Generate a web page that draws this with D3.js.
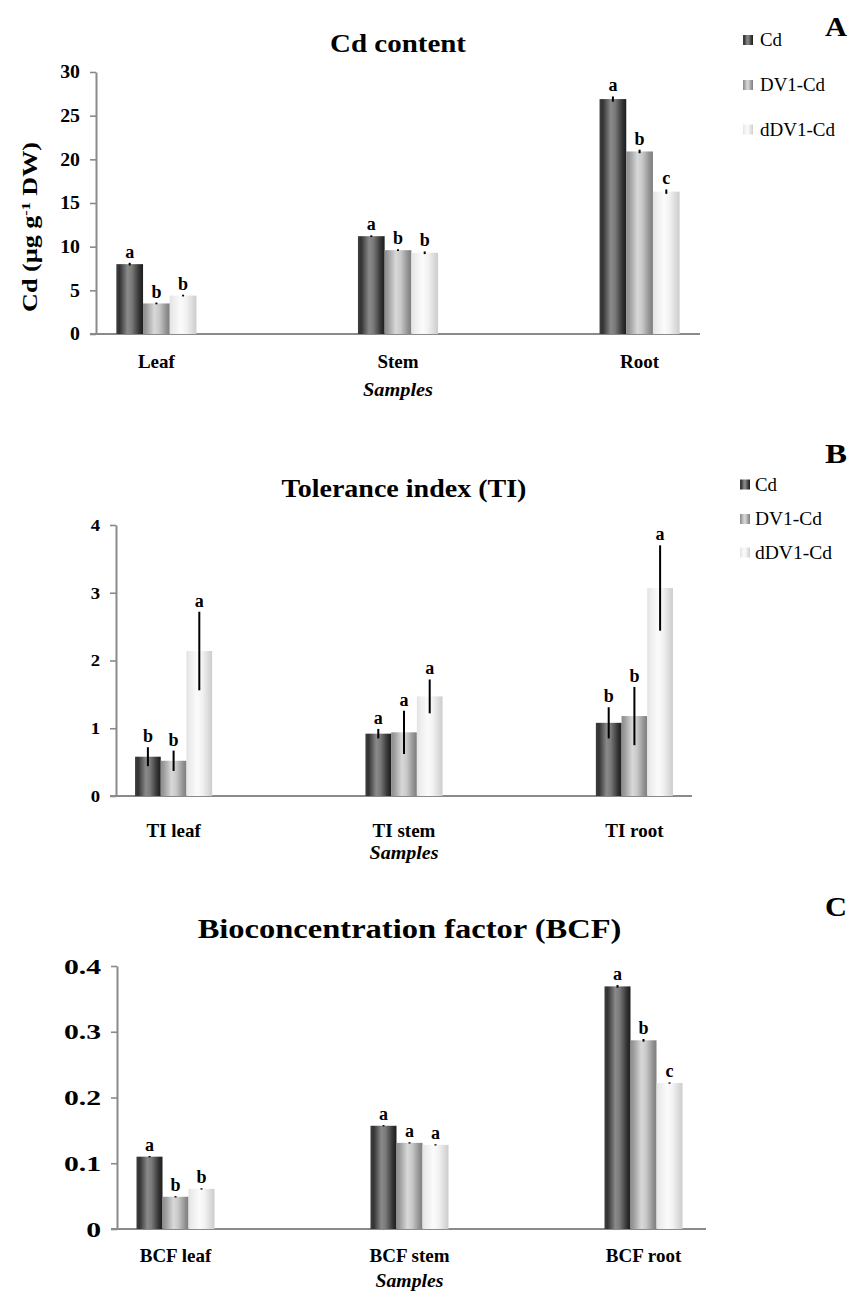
<!DOCTYPE html>
<html>
<head>
<meta charset="utf-8">
<script src="https://cdn.jsdelivr.net/npm/d3@7"></script>
<style>
  html, body { margin: 0; padding: 0; background: #fff; }
  svg { display: block; }
</style>
</head>
<body>
<svg id="chart" width="862" height="1294"></svg>
<script>
// ---------------- DATA ----------------
const seriesNames = ["Cd", "DV1-Cd", "dDV1-Cd"];

// Panel A: Cd content (µg g-1 DW)
const categoriesA = ["Leaf", "Stem", "Root"];
const ticksA = [0, 5, 10, 15, 20, 25, 30];
const valuesA_Cd   = [8.0, 11.2, 26.9];
const valuesA_DV1  = [3.5, 9.6, 20.9];
const valuesA_dDV1 = [4.4, 9.3, 16.3];
const errorsA_Cd   = [0.15, 0.1, 0.3];
const errorsA_DV1  = [0.1, 0.1, 0.2];
const errorsA_dDV1 = [0.1, 0.15, 0.25];
const lettersA_Cd   = ["a", "a", "a"];
const lettersA_DV1  = ["b", "b", "b"];
const lettersA_dDV1 = ["b", "b", "c"];

// Panel B: Tolerance index (TI)
const categoriesB = ["TI leaf", "TI stem", "TI root"];
const ticksB = [0, 1, 2, 3, 4];
const valuesB_Cd   = [0.58, 0.92, 1.08];
const valuesB_DV1  = [0.52, 0.94, 1.18];
const valuesB_dDV1 = [2.14, 1.47, 3.07];
const errorsB_Cd   = [0.14, 0.07, 0.23];
const errorsB_DV1  = [0.15, 0.32, 0.43];
const errorsB_dDV1 = [0.58, 0.25, 0.63];
const lettersB_Cd   = ["b", "a", "b"];
const lettersB_DV1  = ["b", "a", "b"];
const lettersB_dDV1 = ["a", "a", "a"];

// Panel C: Bioconcentration factor (BCF)
const categoriesC = ["BCF leaf", "BCF stem", "BCF root"];
const ticksC = [0, 0.1, 0.2, 0.3, 0.4];
const valuesC_Cd   = [0.110, 0.157, 0.369];
const valuesC_DV1  = [0.049, 0.131, 0.287];
const valuesC_dDV1 = [0.061, 0.128, 0.222];
const errorsC_Cd   = [0.001, 0.001, 0.002];
const errorsC_DV1  = [0.001, 0.001, 0.002];
const errorsC_dDV1 = [0.001, 0.001, 0.001];
const lettersC_Cd   = ["a", "a", "a"];
const lettersC_DV1  = ["b", "a", "b"];
const lettersC_dDV1 = ["b", "a", "c"];

// ---------------- DRAWING ----------------
const FONT = "'Liberation Serif', 'Times New Roman', Times, serif";
const AXIS = "#8a8a8a";
const svg = d3.select("#chart");
const defs = svg.append("defs");

const gradStops = {
  "Cd": [[0, "#3e3e3e"], [0.12, "#333"], [0.42, "#8a8a8a"], [0.58, "#7a7a7a"], [0.86, "#333"], [1, "#1c1c1c"]],
  "DV1-Cd": [[0, "#8c8c8c"], [0.12, "#9c9c9c"], [0.42, "#d8d8d8"], [0.6, "#c9c9c9"], [0.88, "#8f8f8f"], [1, "#7e7e7e"]],
  "dDV1-Cd": [[0, "#e2e2e2"], [0.12, "#ececec"], [0.42, "#fbfbfb"], [0.62, "#f2f2f2"], [0.9, "#d6d6d6"], [1, "#cdcdcd"]]
};
const gradId = d3.scaleOrdinal().domain(seriesNames).range(["gCd", "gDV1", "gdDV1"]);
seriesNames.forEach(s => {
  const lg = defs.append("linearGradient").attr("id", gradId(s))
    .attr("x1", "0%").attr("x2", "100%").attr("y1", "0%").attr("y2", "0%");
  gradStops[s].forEach(([o, c]) => lg.append("stop").attr("offset", o).attr("stop-color", c));
});

// helper: place text and optionally stretch it to a given width
function placeText(parent, o) {
  const t = parent.append("text")
    .attr("x", 0).attr("y", 0)
    .attr("font-family", FONT)
    .attr("font-size", o.size)
    .attr("font-weight", o.weight || "bold")
    .attr("font-style", o.style || "normal")
    .attr("text-anchor", o.anchor || "middle")
    .attr("fill", "#000");
  if (o.parts) {
    o.parts.forEach(p => {
      const ts = t.append("tspan").text(p.t);
      if (p.sup) ts.attr("font-size", o.size * 0.62).attr("baseline-shift", "super");
    });
  } else {
    t.text(o.text);
  }
  let tr = `translate(${o.x},${o.y})` + (o.rotate ? ` rotate(${o.rotate})` : "");
  if (o.width) {
    const len = t.node().getComputedTextLength();
    if (len > 0) tr += ` scale(${o.width / len},1)`;
  }
  t.attr("transform", tr);
  return t;
}

function drawPanel(cfg) {
  const g = svg.append("g");
  const y = d3.scaleLinear().domain([0, cfg.yMax]).range([cfg.yBottom, cfg.yTop]);
  const x = d3.scalePoint().domain(cfg.categories).range([cfg.axisX, cfg.xEnd]).padding(0.25);
  const xs = d3.scaleBand().domain(seriesNames).range([-1.5 * cfg.barW, 1.5 * cfg.barW]);

  // x axis line
  g.append("line")
    .attr("x1", cfg.axisX - 6).attr("x2", cfg.xLineEnd)
    .attr("y1", y(0)).attr("y2", y(0))
    .attr("stroke", AXIS).attr("stroke-width", 2);

  // y axis
  const yAxis = d3.axisLeft(y).tickValues(cfg.ticks).tickSizeInner(6).tickSizeOuter(0)
    .tickPadding(10).tickFormat(cfg.fmt);
  const ya = g.append("g").attr("transform", `translate(${cfg.axisX},0)`).call(yAxis);
  ya.select(".domain").attr("stroke", AXIS).attr("stroke-width", 2);
  ya.selectAll(".tick line").attr("stroke", AXIS).attr("stroke-width", 1.6);
  ya.selectAll(".tick text")
    .attr("font-family", FONT).attr("font-weight", "bold")
    .attr("font-size", cfg.tickSize).attr("fill", "#000")
    .attr("x", -16 / cfg.tickSx)
    .attr("transform", `scale(${cfg.tickSx},1)`);

  // bars
  const rows = [];
  cfg.series.forEach((ser, si) => {
    cfg.categories.forEach((c, ci) => {
      rows.push({ cat: c, s: seriesNames[si], v: ser.values[ci], e: ser.errors[ci], l: ser.letters[ci] });
    });
  });
  const bg = g.append("g");
  bg.selectAll("rect").data(rows).join("rect")
    .attr("x", d => x(d.cat) + xs(d.s))
    .attr("y", d => y(d.v))
    .attr("width", xs.bandwidth())
    .attr("height", d => y(0) - y(d.v))
    .attr("fill", d => `url(#${gradId(d.s)})`);

  // error bars
  bg.selectAll("line.err").data(rows).join("line").attr("class", "err")
    .attr("x1", d => x(d.cat) + xs(d.s) + xs.bandwidth() / 2)
    .attr("x2", d => x(d.cat) + xs(d.s) + xs.bandwidth() / 2)
    .attr("y1", d => y(d.v - d.e))
    .attr("y2", d => y(d.v + d.e))
    .attr("stroke", "#000").attr("stroke-width", 2);

  // significance letters
  bg.selectAll("text.lt").data(rows).join("text").attr("class", "lt")
    .attr("x", d => x(d.cat) + xs(d.s) + xs.bandwidth() / 2)
    .attr("y", d => y(d.v + d.e) - 5)
    .attr("text-anchor", "middle")
    .attr("font-family", FONT).attr("font-weight", "bold")
    .attr("font-size", 18).attr("fill", "#000")
    .text(d => d.l);

  // category labels
  cfg.categories.forEach(c => {
    placeText(g, { x: x(c), y: cfg.catY, text: c, size: 19 });
  });
  // "Samples"
  placeText(g, { x: x(cfg.categories[1]), y: cfg.samplesY, text: "Samples", size: 19, style: "italic", width: cfg.samplesW });

  // title
  placeText(g, { x: x(cfg.categories[1]), y: cfg.titleY, text: cfg.title, size: cfg.titleSize, width: cfg.titleW });

  // panel letter
  placeText(g, { x: 836, y: cfg.letterY, text: cfg.letter, size: 28, width: 22 });

  // legend
  if (cfg.legend) {
    cfg.legend.ys.forEach((ly, i) => {
      g.append("rect")
        .attr("x", cfg.legend.x).attr("y", ly - 5)
        .attr("width", 10).attr("height", 10)
        .attr("fill", `url(#${gradId(seriesNames[i])})`);
      placeText(g, { x: cfg.legend.tx, y: ly + 6, text: seriesNames[i], size: 18, weight: "normal", anchor: "start", width: cfg.legend.widths[i] });
    });
  }

  // y label
  if (cfg.yLabel) {
    placeText(g, { x: cfg.yLabel.x, y: cfg.yLabel.y, rotate: -90, size: 20, parts: cfg.yLabel.parts, width: cfg.yLabel.w });
  }
}

drawPanel({
  categories: categoriesA, ticks: ticksA, yMax: 30, fmt: d3.format("d"),
  yBottom: 334, yTop: 72, axisX: 96, xEnd: 700, xLineEnd: 700, barW: 26.7,
  tickSize: 18, tickSx: 1.1,
  series: [
    { values: valuesA_Cd, errors: errorsA_Cd, letters: lettersA_Cd },
    { values: valuesA_DV1, errors: errorsA_DV1, letters: lettersA_DV1 },
    { values: valuesA_dDV1, errors: errorsA_dDV1, letters: lettersA_dDV1 }
  ],
  catY: 368, samplesY: 396, samplesW: 70,
  title: "Cd content", titleY: 52, titleSize: 26, titleW: 136,
  letter: "A", letterY: 36,
  legend: { x: 743, tx: 760, ys: [40, 85, 129.5], widths: [22, 65, 75] },
  yLabel: { x: 37, y: 227, w: 170, parts: [{ t: "Cd (µg g" }, { t: "-1", sup: true }, { t: " DW)" }] }
});

drawPanel({
  categories: categoriesB, ticks: ticksB, yMax: 4, fmt: d3.format("d"),
  yBottom: 796, yTop: 525, axisX: 116, xEnd: 692, xLineEnd: 692, barW: 25.7,
  tickSize: 17, tickSx: 1.1,
  series: [
    { values: valuesB_Cd, errors: errorsB_Cd, letters: lettersB_Cd },
    { values: valuesB_DV1, errors: errorsB_DV1, letters: lettersB_DV1 },
    { values: valuesB_dDV1, errors: errorsB_dDV1, letters: lettersB_dDV1 }
  ],
  catY: 837, samplesY: 859, samplesW: 69,
  title: "Tolerance index (TI)", titleY: 497, titleSize: 26, titleW: 245,
  letter: "B", letterY: 463,
  legend: { x: 740, tx: 755, ys: [484.5, 519, 552.5], widths: [22, 67, 77] }
});

drawPanel({
  categories: categoriesC, ticks: ticksC, yMax: 0.4, fmt: d => d === 0 ? "0" : d3.format(".1f")(d),
  yBottom: 1229, yTop: 966, axisX: 117, xEnd: 702, xLineEnd: 706, barW: 26,
  tickSize: 22, tickSx: 1.35,
  series: [
    { values: valuesC_Cd, errors: errorsC_Cd, letters: lettersC_Cd },
    { values: valuesC_DV1, errors: errorsC_DV1, letters: lettersC_DV1 },
    { values: valuesC_dDV1, errors: errorsC_dDV1, letters: lettersC_dDV1 }
  ],
  catY: 1262, samplesY: 1287, samplesW: 68,
  title: "Bioconcentration factor (BCF)", titleY: 938, titleSize: 27, titleW: 424,
  letter: "C", letterY: 916
});
</script>
</body>
</html>
